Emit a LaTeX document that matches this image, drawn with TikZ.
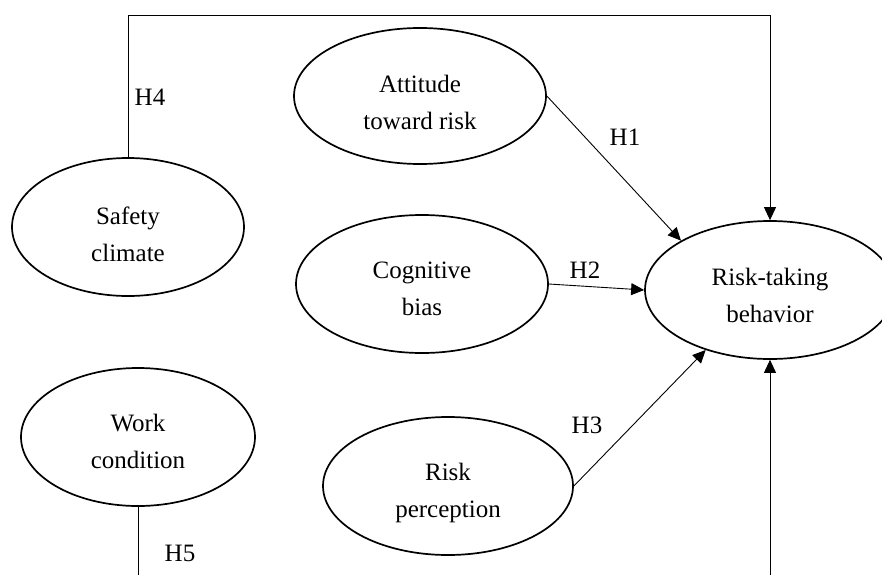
\documentclass[tikz,border=0pt]{standalone}
\usepackage{fontspec}
\setmainfont{Liberation Serif}
\usetikzlibrary{shapes.geometric,arrows.meta}
\tikzset{
  construct/.style={ellipse,draw,line width=1.7pt,inner sep=0pt},
  ctext/.style={align=center,inner sep=0pt,font=\fontsize{25}{37}\selectfont},
  hlab/.style={font=\fontsize{25}{28}\selectfont,inner sep=0pt},
  conn/.style={line width=0.9pt},
  arr/.style={conn,-{Triangle[length=13pt,width=12pt]}}
}
\begin{document}
\begin{tikzpicture}[x=1pt,y=-1pt]
\clip (0,0) rectangle (882,575);
\fill[white] (0,0) rectangle (882,575);
\node[construct,minimum width=232pt,minimum height=138pt] (sc) at (128,227) {};
\node[construct,minimum width=252pt,minimum height=136pt] (at) at (420,96) {};
\node[construct,minimum width=252pt,minimum height=138pt] (cb) at (422,284) {};
\node[construct,minimum width=250pt,minimum height=138pt] (rp) at (448,486) {};
\node[construct,minimum width=234pt,minimum height=138pt] (wc) at (138,437) {};
\node[construct,minimum width=250pt,minimum height=138pt] (rt) at (770,290) {};
\node[ctext] (sct) at (128,234) {Safety\\climate};
\node[ctext] (att) at (420,102) {Attitude\\toward risk};
\node[ctext] (cbt) at (422,289) {Cognitive\\bias};
\node[ctext] (rpt) at (448,493) {Risk\\perception};
\node[ctext] (wct) at (138,441) {Work\\condition};
\node[ctext] (rtt) at (770,295) {Risk-taking\\behavior};
\coordinate (tl) at (128,15);
\coordinate (tr) at (770,15);
\coordinate (b1) at (770,575);
\coordinate (b2) at (138,575);
\draw[conn] (sc.north) -- (tl) -- (tr);
\draw[arr] (tr) -- (rt.north);
\draw[arr] (at.east) -- (rt.151);
\draw[arr] (cb.east) -- (rt.west);
\draw[arr] (rp.east) -- (rt.223);
\draw[arr] (b1) -- (rt.south);
\draw[conn] (wc.south) -- (b2);
\node[hlab] (h4) at (150,97) {H4};
\node[hlab] (h1) at (625,137) {H1};
\node[hlab] (h2) at (585,270) {H2};
\node[hlab] (h3) at (587,425) {H3};
\node[hlab] (h5) at (180,553) {H5};
\end{tikzpicture}
\end{document}
